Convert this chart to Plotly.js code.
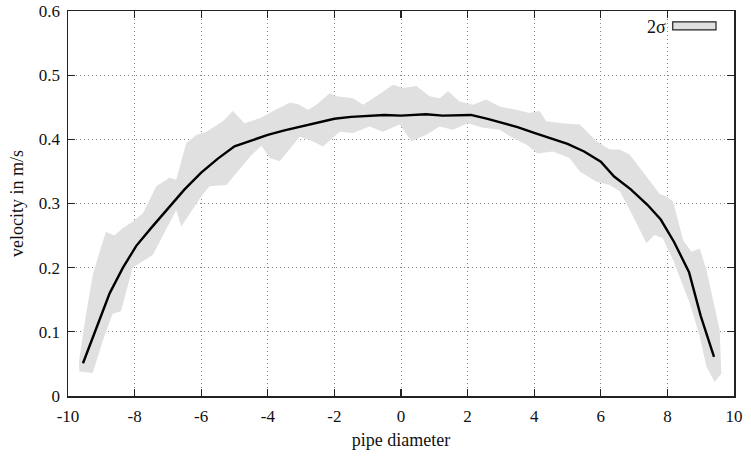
<!DOCTYPE html>
<html>
<head>
<meta charset="utf-8">
<script src="https://cdn.plot.ly/plotly-3.0.1.min.js"></script>
<style>html,body{margin:0;padding:0;background:#fff;}#chart{width:751px;height:456px;}</style>
</head>
<body>
<div id="chart"></div>
<script>
// Mean velocity profile
const meanX = [-9.55,-9.15,-8.75,-8.35,-7.95,-7.5,-7.0,-6.5,-6.0,-5.5,-5.0,-4.5,-4.0,-3.5,-3.0,-2.5,-2.0,-1.5,-1.0,-0.5,0,0.5,0.75,1.25,1.75,2.1,2.6,3.1,3.5,4.0,4.5,5.0,5.5,6.0,6.4,6.9,7.4,7.8,8.2,8.65,9.0,9.4];
const meanY = [0.051,0.105,0.160,0.200,0.234,0.262,0.292,0.322,0.348,0.370,0.389,0.398,0.407,0.414,0.420,0.427,0.432,0.435,0.437,0.438,0.437,0.438,0.439,0.437,0.437,0.438,0.432,0.425,0.419,0.410,0.401,0.393,0.381,0.365,0.342,0.322,0.298,0.275,0.240,0.193,0.125,0.061];

// 2-sigma band: upper edge (left to right)
const upperX = [-9.67,-9.45,-9.25,-9.06,-8.86,-8.61,-8.35,-8.05,-7.75,-7.35,-6.95,-6.75,-6.45,-6.14,-5.84,-5.35,-5.05,-4.70,-4.24,-3.84,-3.34,-3.10,-2.79,-2.54,-2.14,-1.94,-1.44,-1.14,-0.74,-0.24,0.06,0.46,0.86,1.16,1.41,1.76,2.16,2.56,2.96,3.46,3.86,4.16,4.36,4.86,5.37,5.87,6.27,6.57,6.87,7.37,7.77,7.97,8.17,8.47,8.72,8.97,9.17,9.57,9.62];
const upperY = [0.054,0.13,0.19,0.223,0.256,0.250,0.262,0.272,0.285,0.327,0.340,0.337,0.394,0.407,0.412,0.428,0.444,0.425,0.433,0.444,0.457,0.455,0.446,0.454,0.472,0.467,0.464,0.454,0.467,0.485,0.480,0.483,0.467,0.464,0.475,0.459,0.454,0.462,0.451,0.446,0.441,0.444,0.428,0.425,0.423,0.397,0.384,0.384,0.376,0.342,0.315,0.311,0.303,0.243,0.225,0.230,0.197,0.103,0.035];
// 2-sigma band: lower edge (left to right)
const lowerX = [-9.66,-9.26,-8.91,-8.66,-8.41,-8.06,-7.85,-7.45,-6.75,-6.60,-6.00,-5.75,-5.24,-4.99,-4.50,-4.19,-3.94,-3.64,-3.04,-2.74,-2.34,-1.84,-1.44,-0.94,-0.54,-0.04,0.31,0.76,1.16,1.56,2.01,2.46,2.96,3.36,3.76,4.10,4.56,5.06,5.37,5.87,6.27,6.57,6.87,7.12,7.37,7.61,7.86,8.17,8.67,8.97,9.17,9.42,9.62];
const lowerY = [0.038,0.036,0.093,0.128,0.132,0.200,0.207,0.220,0.290,0.264,0.311,0.327,0.329,0.345,0.375,0.390,0.371,0.366,0.404,0.399,0.389,0.412,0.410,0.420,0.412,0.423,0.397,0.407,0.420,0.415,0.425,0.418,0.415,0.402,0.392,0.378,0.381,0.371,0.350,0.334,0.329,0.319,0.290,0.264,0.238,0.251,0.246,0.212,0.145,0.093,0.046,0.022,0.035];

const xTicks = [-10,-8,-6,-4,-2,0,2,4,6,8,10];
const yTicks = [0,0.1,0.2,0.3,0.4,0.5,0.6];
const legendLabel = '2σ';

const bandX = upperX.concat(lowerX.slice().reverse());
const bandY = upperY.concat(lowerY.slice().reverse());

const FONT = "'Liberation Serif', 'DejaVu Serif', serif";
const BAND = 'rgb(224,224,224)';

const traces = [
  {x: bandX, y: bandY, type: 'scatter', mode: 'none', fill: 'toself',
   fillcolor: BAND, showlegend: false, hoverinfo: 'skip', name: legendLabel},
  {x: meanX, y: meanY, type: 'scatter', mode: 'lines',
   line: {color: '#000', width: 2.4}, showlegend: false}
];

const axisCommon = {
  showline: true, linecolor: '#222', linewidth: 1.5, mirror: 'ticks',
  ticks: 'inside', ticklen: 7, tickcolor: '#222', tickwidth: 1.2,
  showgrid: true, gridcolor: '#888', gridwidth: 1, griddash: '1px,3px',
  zeroline: false, tickfont: {family: FONT, size: 17, color: '#111'}
};

const layout = {
  width: 751, height: 456,
  margin: {l: 68, r: 17, t: 11, b: 60},
  paper_bgcolor: '#fff', plot_bgcolor: '#fff',
  font: {family: FONT, size: 18, color: '#111'},
  xaxis: Object.assign({}, axisCommon, {
    range: [-10, 10], tickvals: xTicks, ticktext: xTicks.map(String),
    ticklabelstandoff: 4,
    title: {text: 'pipe diameter', font: {family: FONT, size: 18}, standoff: 8}
  }),
  yaxis: Object.assign({}, axisCommon, {
    range: [0, 0.6], tickvals: yTicks, ticktext: yTicks.map(String),
    ticklabelstandoff: 3,
    title: {text: 'velocity in m/s', font: {family: FONT, size: 18}, standoff: 10}
  }),
  showlegend: false,
  annotations: [
    {xref: 'paper', yref: 'paper', x: 0.901, y: 0.958, xanchor: 'right', yanchor: 'middle',
     text: legendLabel, showarrow: false, font: {family: FONT, size: 18, color: '#111'}}
  ],
  shapes: [
    {type: 'rect', xref: 'paper', yref: 'paper', x0: 0.908, x1: 0.973, y0: 0.951, y1: 0.972,
     fillcolor: BAND, line: {color: '#222', width: 1.2}}
  ]
};

Plotly.newPlot('chart', traces, layout, {staticPlot: true, displayModeBar: false});
</script>
</body>
</html>
